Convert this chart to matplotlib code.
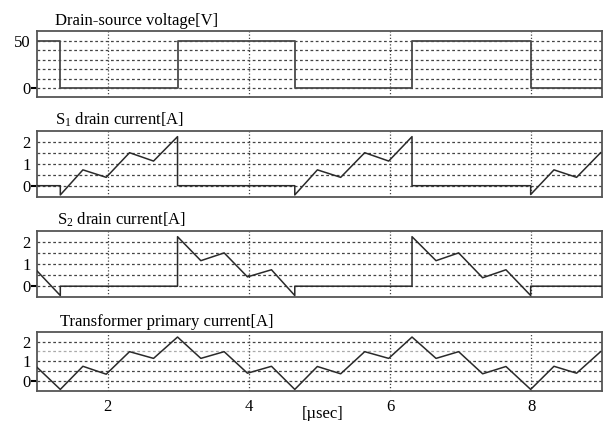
import matplotlib
matplotlib.use("Agg")
import matplotlib.pyplot as plt

plt.rcParams['font.family'] = ['Liberation Serif', 'DejaVu Serif']
plt.rcParams['mathtext.fontset'] = 'custom'
plt.rcParams['mathtext.rm'] = 'Liberation Serif'
plt.rcParams['mathtext.it'] = 'Liberation Serif'

# ---- data (time in usec) ----
t_vds = [1.0, 1.33, 2.99, 4.65, 6.31, 7.99, 9.0]
v_vds = [50, 0, 50, 0, 50, 0, 0]

t_s1 = [1.0, 1.33, 1.33, 1.65, 1.98, 2.31, 2.65, 2.99, 2.99, 4.65, 4.65, 4.97,
        5.30, 5.64, 5.98, 6.31, 6.31, 7.99, 7.99, 8.32, 8.64, 8.98]
i_s1 = [0.0, 0.0, -0.42, 0.72, 0.38, 1.50, 1.12, 2.23, 0.0, 0.0, -0.42, 0.72,
        0.38, 1.50, 1.12, 2.23, 0.0, 0.0, -0.40, 0.72, 0.38, 1.50]

t_s2 = [1.0, 1.33, 1.33, 2.99, 2.99, 3.32, 3.65, 3.98, 4.32, 4.65, 4.65, 6.31,
        6.31, 6.65, 6.97, 7.31, 7.64, 7.99, 7.99, 9.0]
i_s2 = [0.69, -0.42, 0.0, 0.0, 2.23, 1.15, 1.50, 0.42, 0.74, -0.42, 0.0, 0.0,
        2.23, 1.15, 1.50, 0.38, 0.74, -0.42, 0.0, 0.0]

t_pri = [1.0, 1.33, 1.65, 1.98, 2.31, 2.65, 2.99, 3.32, 3.65, 3.98, 4.32, 4.65,
         4.97, 5.30, 5.64, 5.98, 6.31, 6.65, 6.97, 7.31, 7.64, 7.99, 8.32, 8.64, 8.98]
i_pri = [0.70, -0.42, 0.75, 0.35, 1.49, 1.15, 2.23, 1.15, 1.49, 0.40, 0.75, -0.42,
         0.74, 0.37, 1.49, 1.15, 2.23, 1.15, 1.49, 0.37, 0.74, -0.42, 0.75, 0.40, 1.49]

titles = ["Drain-source voltage[V]", "S$_1$ drain current[A]",
          "S$_2$ drain current[A]", "Transformer primary current[A]"]
title_x = [0.032, 0.032, 0.036, 0.041]
x_ticks = [2, 4, 6, 8]
volt_ticks = [0, 50]
volt_grid = [0, 10, 20, 30, 40, 50]
cur_ticks = [0, 1, 2]
cur_grid = [0, 0.5, 1, 1.5, 2]

W, H = 608, 421
fig = plt.figure(figsize=(W / 100, H / 100), dpi=100)

# axes boxes in pixel (top, bottom)
boxes = [(31, 97), (130.7, 196.7), (230.7, 297.3), (331.7, 391)]
left_px, right_px = 37, 602

line_col = '#2a2a2a'
frame_col = '#555555'
grid_col = '#444444'

axes = []
for (top, bot) in boxes:
    ax = fig.add_axes([left_px / W, (H - bot) / H, (right_px - left_px) / W, (bot - top) / H])
    axes.append(ax)

series = [(t_vds, v_vds), (t_s1, i_s1), (t_s2, i_s2), (t_pri, i_pri)]

for k, ax in enumerate(axes):
    ax.set_xlim(1.0, 9.0)
    if k == 0:
        ax.set_ylim(-9, 60)
        grid = volt_grid
        ticks = volt_ticks
    else:
        ax.set_ylim(-0.5, 2.5)
        grid = cur_grid
        ticks = cur_ticks
    for g in grid:
        col = grid_col
        if k == 3 and g == 1.5:
            col = '#aaaaaa'
        ax.axhline(g, color=col, lw=0.9, ls=(0, (2.2, 2.0)), zorder=1)
    for xv in x_ticks:
        ax.axvline(xv, color=grid_col, lw=0.9, ls=(0, (1.0, 1.6)), zorder=1)
    t, v = series[k]
    if k == 0:
        ax.step(t, v, where='post', color='#4a4a4a', lw=1.3, zorder=3)
    else:
        ax.plot(t, v, color=line_col, lw=1.1, zorder=3)
    ax.set_yticks(ticks)
    ax.set_yticklabels([str(x) for x in ticks], fontsize=12)
    ax.tick_params(axis='y', length=0, pad=4.5, direction='out')
    yt = ax.yaxis.get_major_ticks()
    yt[0].tick1line.set_markersize(4)
    yt[0].tick1line.set_markeredgewidth(1.5)
    yt[0].tick1line.set_color('#222222')
    ax.set_xticks(x_ticks)
    ax.tick_params(axis='x', length=0)
    if k < 3:
        ax.set_xticklabels([])
    else:
        ax.set_xticklabels([str(x) for x in x_ticks], fontsize=12)
        ax.tick_params(axis='x', pad=6)
        ax.set_xlabel("[\u00b5sec]", fontsize=12)
        ax.xaxis.set_label_coords(0.505, -0.25)
    for s in ax.spines.values():
        s.set_color(frame_col)
        s.set_linewidth(1.3)
    hpx = boxes[k][1] - boxes[k][0]
    ax.text(title_x[k], 1 + 6.0 / hpx, titles[k], transform=ax.transAxes,
            fontsize=12, ha='left', va='baseline')

fig.savefig("out.png", dpi=100)
